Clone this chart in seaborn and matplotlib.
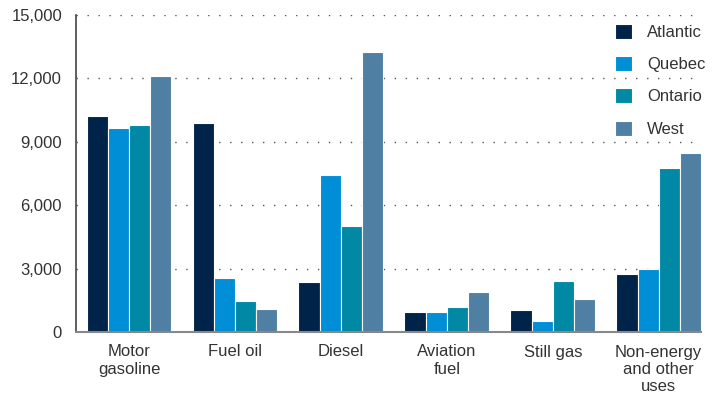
import matplotlib
matplotlib.use("Agg")
import matplotlib.pyplot as plt
import seaborn as sns
import pandas as pd

categories = ["Motor\ngasoline", "Fuel oil", "Diesel", "Aviation\nfuel", "Still gas", "Non-energy\nand other\nuses"]
regions = ["Atlantic", "Quebec", "Ontario", "West"]
atlantic = [10200, 9900, 2350, 950, 1050, 2750]
quebec = [9650, 2550, 7450, 950, 520, 2980]
ontario = [9800, 1470, 5020, 1180, 2420, 7780]
west = [12100, 1090, 13250, 1900, 1570, 8480]
yticks = [0, 3000, 6000, 9000, 12000, 15000]
colors = ["#002349", "#008ed6", "#0088a5", "#4f80a4"]

rows = []
for region, vals in zip(regions, [atlantic, quebec, ontario, west]):
    for cat, v in zip(categories, vals):
        rows.append({"category": cat, "region": region, "value": v})
df = pd.DataFrame(rows)

sns.set_theme(style="white")
plt.rcParams["font.family"] = ["Liberation Sans", "DejaVu Sans"]

fig = plt.figure(figsize=(7.12, 4.0), dpi=100)
ax = fig.add_axes([0.1067, 0.17, 0.878, 0.7925])

sns.barplot(data=df, x="category", y="value", hue="region", order=categories,
            hue_order=regions, palette=colors, width=0.8, ax=ax,
            edgecolor="white", linewidth=0.8, saturation=1, errorbar=None)

ax.set_xlim(-0.5, 5.4)
ax.set_ylim(0, 15000)
ax.set_yticks(yticks)
ax.set_yticklabels([f"{t:,}" for t in yticks])
ax.set_xlabel("")
ax.set_ylabel("")

for t in yticks[1:]:
    ax.axhline(t, color="#555555", lw=1.0, linestyle=(0, (1, 6.9)), zorder=0)

for s in ["top", "right"]:
    ax.spines[s].set_visible(False)
ax.spines["left"].set_color("#444444")
ax.spines["left"].set_linewidth(1.2)
ax.spines["bottom"].set_color("#888888")
ax.spines["bottom"].set_linewidth(1.5)

ax.tick_params(axis="y", length=0, pad=10, labelsize=12, labelcolor="#333333")
ax.tick_params(axis="x", length=0, pad=9, labelsize=12, labelcolor="#333333")
for lbl in ax.get_xticklabels():
    lbl.set_linespacing(1.2)

ax.legend(loc="upper right", bbox_to_anchor=(1.031, 1.02), frameon=False,
          fontsize=12, handlelength=1.0, handleheight=1.0, labelspacing=0.97,
          handletextpad=0.9, labelcolor="#333333")

fig.savefig("out.png", dpi=100)
